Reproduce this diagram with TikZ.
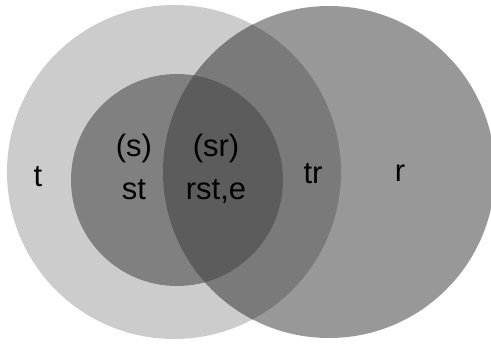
\documentclass[tikz,border=0pt]{standalone}
\usepackage{fontspec}
\setmainfont{Liberation Sans}
\definecolor{tonly}{gray}{0.80}
\definecolor{ronly}{gray}{0.595}
\definecolor{trreg}{gray}{0.48}
\definecolor{streg}{gray}{0.50}
\definecolor{srreg}{gray}{0.36}
\tikzset{lbl/.style={anchor=base, inner sep=0pt, font=\fontsize{31}{34}\selectfont}}
\begin{document}
\begin{tikzpicture}[x=1pt,y=-1pt]
\useasboundingbox (0,0) rectangle (491,345);
\def\tcirc{(174,172) circle[radius=167]}
\def\rcirc{(329,172) circle[radius=166]}
\def\scirc{(177,180) circle[radius=106]}
\fill[tonly] \tcirc;
\fill[ronly] \rcirc;
\begin{scope}
  \clip \tcirc;
  \fill[trreg] \rcirc;
\end{scope}
\fill[streg] \scirc;
\begin{scope}
  \clip \rcirc;
  \fill[srreg] \scirc;
\end{scope}
\node[lbl] (t) at (38,186) {t};
\node[lbl] (s) at (134,157) {(s)};
\node[lbl] (st) at (134,200) {st};
\node[lbl] (sr) at (216,157) {(sr)};
\node[lbl] (rst) at (216,200) {rst,e};
\node[lbl] (tr) at (313,184) {tr};
\node[lbl] (r) at (400,182) {r};
\end{tikzpicture}
\end{document}
